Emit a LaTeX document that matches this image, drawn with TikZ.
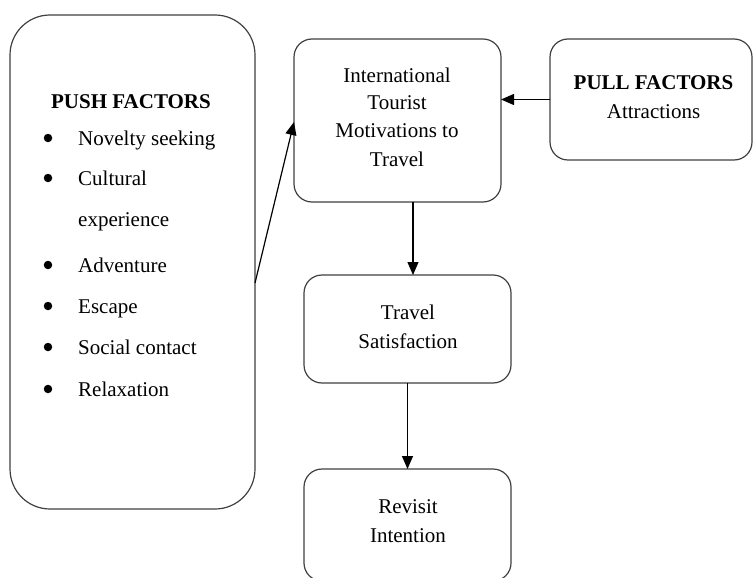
\documentclass[tikz,border=0pt]{standalone}
\usepackage{fontspec}
\setmainfont{Liberation Serif}
\usetikzlibrary{arrows.meta}
\begin{document}
\begin{tikzpicture}[x=1pt,y=-1pt,
  box/.style={draw=black!75, line width=1.2pt, fill=white, inner sep=0pt, outer sep=0pt},
  txt/.style={font=\fontsize{21}{28}\selectfont, inner sep=0pt, anchor=base},
  ltxt/.style={font=\fontsize{21}{28}\selectfont, inner sep=0pt, anchor=base west},
  dot/.style={circle, fill=black, inner sep=0pt, minimum size=8.5pt},
  conn/.style={line width=1.2pt, -{Triangle[length=13pt,width=11pt]}}
]
\useasboundingbox (0,0) rectangle (753,578);
% boxes
\node[box, rounded corners=40pt, minimum width=245pt, minimum height=494pt] (push) at (132.5,262) {};
\node[box, rounded corners=18pt, minimum width=207pt, minimum height=163pt] (mot) at (397.5,120.5) {};
\node[box, rounded corners=18pt, minimum width=202pt, minimum height=121pt] (pull) at (651,99.5) {};
\node[box, rounded corners=18pt, minimum width=207pt, minimum height=108pt] (sat) at (407.5,329) {};
\node[box, rounded corners=18pt, minimum width=207pt, minimum height=112pt] (rev) at (407.5,525) {};
% push text
\node[txt, font=\fontsize{21}{28}\selectfont\bfseries] (pushh) at (131,109) {PUSH FACTORS};
\node[dot] (b1) at (48,138) {};
\node[ltxt] (p1) at (78,145) {Novelty seeking};
\node[dot] (b2) at (48,178) {};
\node[ltxt] (p2) at (78,185) {Cultural};
\node[ltxt] (p2b) at (78,226) {experience};
\node[dot] (b3) at (48,265) {};
\node[ltxt] (p3) at (78,272) {Adventure};
\node[dot] (b4) at (48,306) {};
\node[ltxt] (p4) at (78,313) {Escape};
\node[dot] (b5) at (48,347) {};
\node[ltxt] (p5) at (78,354) {Social contact};
\node[dot] (b6) at (48,389) {};
\node[ltxt] (p6) at (78,396) {Relaxation};
% motivations text
\node[txt] (m1) at (397,83) {International};
\node[txt] (m2) at (397,110) {Tourist};
\node[txt] (m3) at (397,138) {Motivations to};
\node[txt] (m4) at (397,166) {Travel};
% pull text
\node[txt, font=\fontsize{21}{28}\selectfont\bfseries] (pl1) at (653.5,90) {PULL FACTORS};
\node[txt] (pl2) at (653.5,118) {Attractions};
% satisfaction text
\node[txt] (s1) at (408,319) {Travel};
\node[txt] (s2) at (408,348) {Satisfaction};
% revisit text
\node[txt] (r1) at (408,513) {Revisit};
\node[txt] (r2) at (408,542) {Intention};
% connectors
\draw[conn] (push.east |- 0,283) -- (mot.west |- 0,122);
\draw[conn] (pull.west) -- (mot.east |- pull.west);
\draw[conn] (mot.south -| 413,0) -- (sat.north -| 413,0);
\draw[conn] (sat.south) -- (rev.north);
\end{tikzpicture}
\end{document}
